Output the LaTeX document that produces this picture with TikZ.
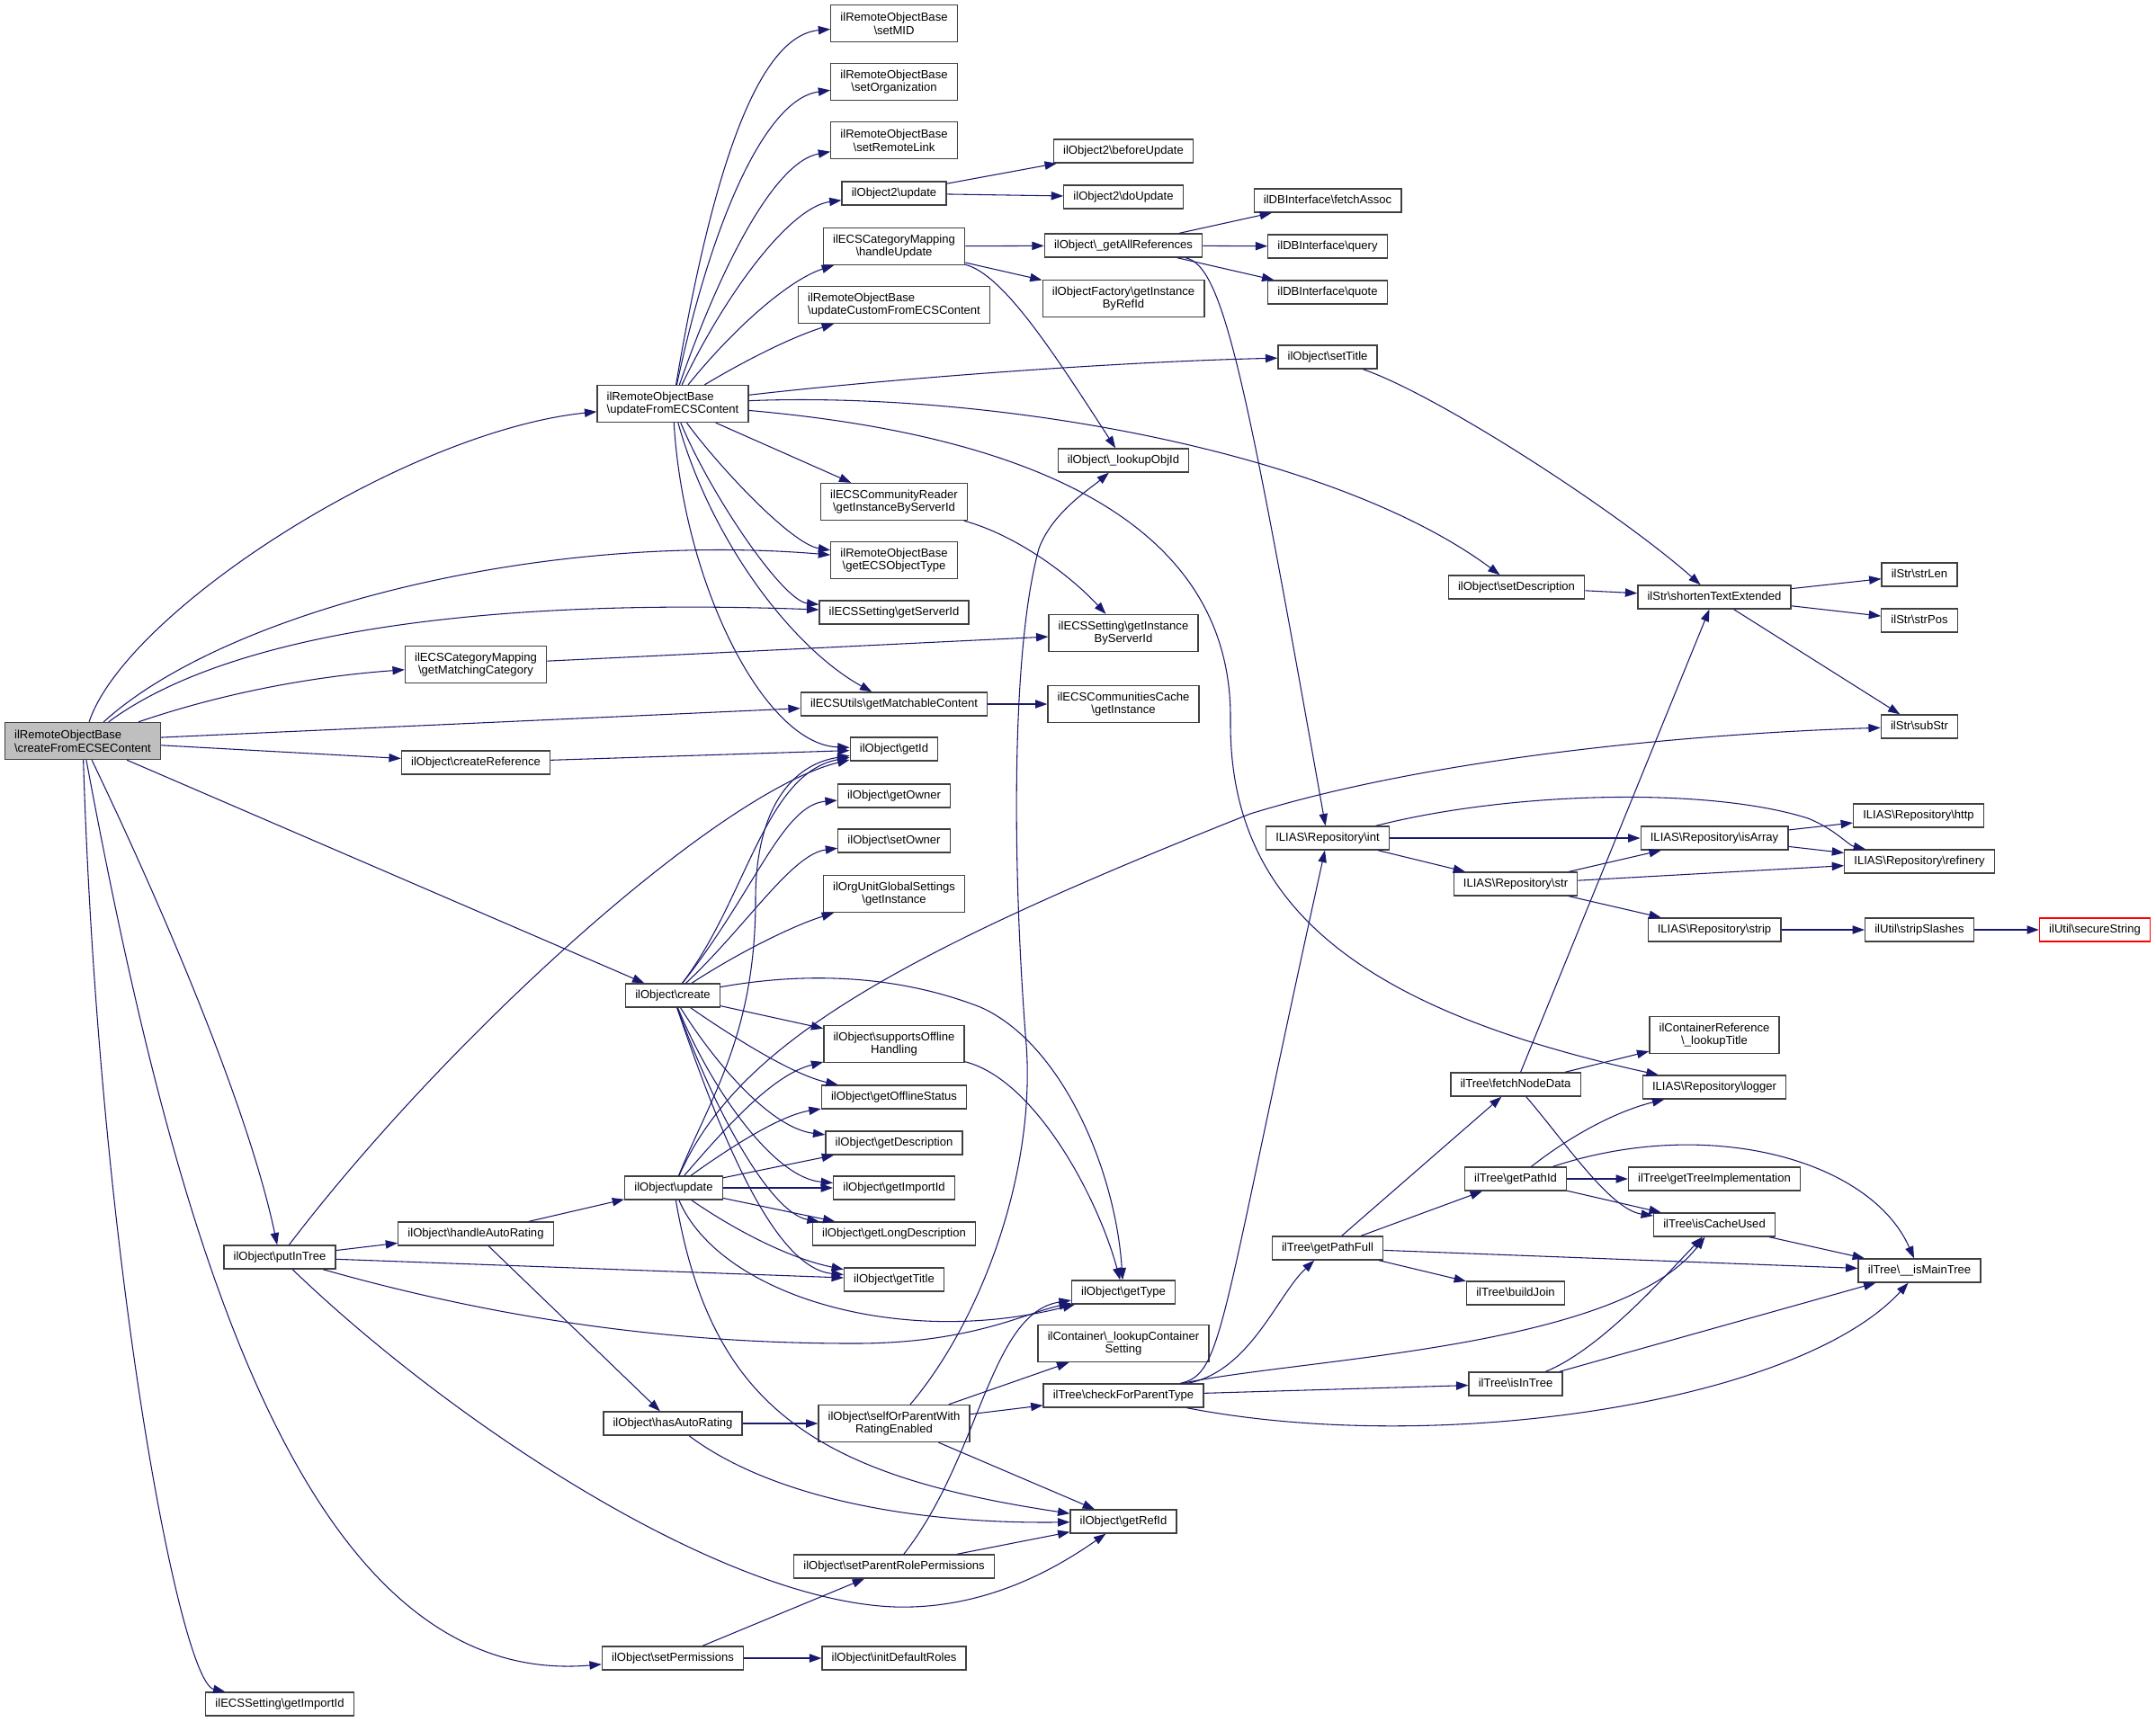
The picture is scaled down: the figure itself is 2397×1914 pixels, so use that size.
\documentclass[tikz,border=0pt]{standalone}
\usepackage{fontspec}
\setmainfont{Liberation Sans}
\usepackage{xcolor}
\usepackage{tikz}
\usetikzlibrary{arrows.meta}
\definecolor{edgeblue}{HTML}{191970}
\definecolor{boxgrey}{HTML}{404040}
\newcommand{\bsep}{\textbackslash}

\begin{document}
\begin{tikzpicture}[x=0.75pt, y=-0.75pt,
    box/.style={draw=boxgrey, line width=1pt, fill=white, font=\fontsize{9.8}{11}\selectfont, inner xsep=8pt, inner ysep=0pt},
    fn/.style={box, minimum height=19.5pt, text height=7pt, text depth=2pt},
    fn2/.style={box, minimum height=30.75pt, align=center},
    call/.style={draw=edgeblue, line width=0.8pt, -{Triangle[length=10pt,width=7pt]}}]
    \useasboundingbox (0,0) rectangle (2397,1914);

    \node[fn2, align=left, fill=gray!50] (root) at (92,824) {ilRemoteObjectBase\\\bsep createFromECSEContent};

    \node[fn2, align=left] (upFromECS) at (748,449) {ilRemoteObjectBase\\\bsep updateFromECSContent};
    \node[fn2] (matchCat) at (529,739) {ilECSCategoryMapping\\\bsep getMatchingCategory};
    \node[fn] (createRef) at (529,848) {ilObject\bsep createReference};
    \node[fn] (objCreate) at (748,1107) {ilObject\bsep create};
    \node[fn] (putInTree) at (311,1398) {ilObject\bsep putInTree};
    \node[fn] (autoRating) at (529,1372) {ilObject\bsep handleAutoRating};
    \node[fn] (objUpdate) at (749,1321) {ilObject\bsep update};
    \node[fn] (hasRating) at (748,1583) {ilObject\bsep hasAutoRating};
    \node[fn] (setPerms) at (748,1844) {ilObject\bsep setPermissions};
    \node[fn] (importIdECS) at (311,1895) {ilECSSetting\bsep getImportId};

    \node[fn2] (setMID) at (994,26) {ilRemoteObjectBase\\\bsep setMID};
    \node[fn2] (setOrg) at (994,91) {ilRemoteObjectBase\\\bsep setOrganization};
    \node[fn2] (setLink) at (994,156) {ilRemoteObjectBase\\\bsep setRemoteLink};
    \node[fn] (obj2Update) at (994,215) {ilObject2\bsep update};
    \node[fn2] (handleUpd) at (994,274) {ilECSCategoryMapping\\\bsep handleUpdate};
    \node[fn2, align=left] (updCustom) at (994,339) {ilRemoteObjectBase\\\bsep updateCustomFromECSContent};
    \node[fn2] (readerInst) at (994,558) {ilECSCommunityReader\\\bsep getInstanceByServerId};
    \node[fn2] (objType) at (994,623) {ilRemoteObjectBase\\\bsep getECSObjectType};
    \node[fn] (serverId) at (994,681) {ilECSSetting\bsep getServerId};
    \node[fn] (matchable) at (994,783) {ilECSUtils\bsep getMatchableContent};
    \node[fn] (getId) at (994,833) {ilObject\bsep getId};
    \node[fn] (getOwner) at (994,885) {ilObject\bsep getOwner};
    \node[fn] (setOwner) at (994,935) {ilObject\bsep setOwner};
    \node[fn2] (orgUnit) at (994,994) {ilOrgUnitGlobalSettings\\\bsep getInstance};
    \node[fn2] (offline) at (994,1161) {ilObject\bsep supportsOffline\\Handling};
    \node[fn] (offStatus) at (994,1220) {ilObject\bsep getOfflineStatus};
    \node[fn] (getDescr) at (994,1271) {ilObject\bsep getDescription};
    \node[fn] (importId) at (994,1321) {ilObject\bsep getImportId};
    \node[fn] (longDescr) at (994,1372) {ilObject\bsep getLongDescription};
    \node[fn] (getTitle) at (994,1423) {ilObject\bsep getTitle};
    \node[fn2] (selfRating) at (994,1583) {ilObject\bsep selfOrParentWith\\RatingEnabled};
    \node[fn] (parentPerms) at (994,1742) {ilObject\bsep setParentRolePermissions};
    \node[fn] (initRoles) at (994,1844) {ilObject\bsep initDefaultRoles};

    \node[fn] (beforeUpd) at (1249,168) {ilObject2\bsep beforeUpdate};
    \node[fn] (doUpd) at (1249,219) {ilObject2\bsep doUpdate};
    \node[fn] (allRefs) at (1249,273) {ilObject\bsep\_getAllReferences};
    \node[fn2] (factory) at (1249,332) {ilObjectFactory\bsep getInstance\\ByRefId};
    \node[fn] (lookupObj) at (1249,512) {ilObject\bsep\_lookupObjId};
    \node[fn2] (settingInst) at (1249,704) {ilECSSetting\bsep getInstance\\ByServerId};
    \node[fn2] (cacheInst) at (1249,783) {ilECSCommunitiesCache\\\bsep getInstance};
    \node[fn] (getType) at (1249,1437) {ilObject\bsep getType};
    \node[fn2] (containerSet) at (1249,1494) {ilContainer\bsep\_lookupContainer\\Setting};
    \node[fn] (parentType) at (1249,1552) {ilTree\bsep checkForParentType};
    \node[fn] (getRefId) at (1249,1692) {ilObject\bsep getRefId};

    \node[fn] (fetchAssoc) at (1476,223) {ilDBInterface\bsep fetchAssoc};
    \node[fn] (dbQuery) at (1476,274) {ilDBInterface\bsep query};
    \node[fn] (dbQuote) at (1476,325) {ilDBInterface\bsep quote};
    \node[fn] (setTitle) at (1476,397) {ilObject\bsep setTitle};
    \node[fn] (repoInt) at (1476,932) {ILIAS\bsep Repository\bsep int};
    \node[fn] (pathFull) at (1476,1388) {ilTree\bsep getPathFull};

    \node[fn] (setDescr) at (1686,653) {ilObject\bsep setDescription};
    \node[fn] (repoStr) at (1685,983) {ILIAS\bsep Repository\bsep str};
    \node[fn] (nodeData) at (1685,1206) {ilTree\bsep fetchNodeData};
    \node[fn] (pathId) at (1685,1311) {ilTree\bsep getPathId};
    \node[fn] (buildJoin) at (1685,1438) {ilTree\bsep buildJoin};
    \node[fn] (isInTree) at (1685,1539) {ilTree\bsep isInTree};

    \node[fn] (shorten) at (1906,664) {ilStr\bsep shortenTextExtended};
    \node[fn] (isArray) at (1906,932) {ILIAS\bsep Repository\bsep isArray};
    \node[fn] (repoStrip) at (1906,1034) {ILIAS\bsep Repository\bsep strip};
    \node[fn2] (lookupTitle) at (1906,1151) {ilContainerReference\\\bsep\_lookupTitle};
    \node[fn] (logger) at (1906,1209) {ILIAS\bsep Repository\bsep logger};
    \node[fn] (treeImpl) at (1906,1311) {ilTree\bsep getTreeImplementation};
    \node[fn] (cacheUsed) at (1906,1362) {ilTree\bsep isCacheUsed};

    \node[fn] (strLen) at (2134,639) {ilStr\bsep strLen};
    \node[fn] (strPos) at (2134,690) {ilStr\bsep strPos};
    \node[fn] (subStr) at (2134,808) {ilStr\bsep subStr};
    \node[fn] (repoHttp) at (2133,907) {ILIAS\bsep Repository\bsep http};
    \node[fn] (refinery) at (2134,958) {ILIAS\bsep Repository\bsep refinery};
    \node[fn] (stripSl) at (2134,1034) {ilUtil\bsep stripSlashes};
    \node[fn] (mainTree) at (2134,1413) {ilTree\bsep\_\_isMainTree};
    \node[fn, draw=red] (secure) at (2329,1034) {ilUtil\bsep secureString};

    \draw[call] (root) .. controls (140,680) and (450,480) .. (upFromECS);
    \draw[call] (root) .. controls (250,680) and (600,590) .. (objType);
    \draw[call] (root) .. controls (260,700) and (550,665) .. (serverId);
    \draw[call] (root) .. controls (250,770) and (350,752) .. (matchCat);
    \draw[call] (root) -- (matchable);
    \draw[call] (root) -- (createRef);
    \draw[call] (root) -- (objCreate);
    \draw[call] (root) .. controls (200,1050) and (280,1250) .. (putInTree);
    \draw[call] (root) .. controls (190,1350) and (330,1880) .. (setPerms);
    \draw[call] (root) .. controls (110,1400) and (200,1870) .. (importIdECS);

    \draw[call] (upFromECS) .. controls (790,200) and (840,40) .. (setMID);
    \draw[call] (upFromECS) .. controls (790,250) and (850,110) .. (setOrg);
    \draw[call] (upFromECS) .. controls (800,300) and (860,180) .. (setLink);
    \draw[call] (upFromECS) .. controls (810,320) and (880,230) .. (obj2Update);
    \draw[call] (upFromECS) .. controls (820,360) and (880,310) .. (handleUpd);
    \draw[call] (upFromECS) .. controls (830,400) and (880,375) .. (updCustom);
    \draw[call] (upFromECS) .. controls (1000,420) and (1250,402) .. (setTitle);
    \draw[call] (upFromECS) .. controls (1100,435) and (1480,500) .. (setDescr);
    \draw[call] (upFromECS) .. controls (1100,480) and (1370,560) .. (1368,800) .. controls (1366,1000) and (1500,1120) .. (logger);
    \draw[call] (upFromECS) -- (readerInst);
    \draw[call] (upFromECS) .. controls (800,520) and (880,605) .. (objType);
    \draw[call] (upFromECS) .. controls (790,550) and (870,668) .. (serverId);
    \draw[call] (upFromECS) .. controls (790,600) and (880,720) .. (matchable);
    \draw[call] (upFromECS) .. controls (760,650) and (850,828) .. (getId);

    \draw[call] (obj2Update) -- (beforeUpd);
    \draw[call] (obj2Update) -- (doUpd);
    \draw[call] (handleUpd) -- (allRefs);
    \draw[call] (handleUpd) -- (factory);
    \draw[call] (handleUpd) .. controls (1115,305) and (1170,390) .. (lookupObj);
    \draw[call] (allRefs) -- (fetchAssoc);
    \draw[call] (allRefs) -- (dbQuery);
    \draw[call] (allRefs) -- (dbQuote);
    \draw[call] (allRefs) .. controls (1360,295) and (1385,420) .. (repoInt);
    \draw[call] (readerInst) .. controls (1130,595) and (1190,640) .. (settingInst);
    \draw[call] (matchCat) -- (settingInst);
    \draw[call] (matchable) -- (cacheInst);
    \draw[call] (createRef) -- (getId);

    \draw[call] (objCreate) .. controls (830,1000) and (850,860) .. (getId);
    \draw[call] (objCreate) .. controls (840,990) and (870,895) .. (getOwner);
    \draw[call] (objCreate) .. controls (830,1030) and (880,950) .. (setOwner);
    \draw[call] (objCreate) .. controls (820,1060) and (880,1030) .. (orgUnit);
    \draw[call] (objCreate) .. controls (900,1080) and (1000,1085) .. (1090,1120) .. controls (1180,1160) and (1240,1300) .. (getType);
    \draw[call] (objCreate) -- (offline);
    \draw[call] (objCreate) .. controls (810,1150) and (880,1195) .. (offStatus);
    \draw[call] (objCreate) .. controls (800,1190) and (860,1255) .. (getDescr);
    \draw[call] (objCreate) .. controls (790,1210) and (860,1310) .. (importId);
    \draw[call] (objCreate) .. controls (800,1250) and (860,1350) .. (longDescr);
    \draw[call] (objCreate) .. controls (800,1260) and (860,1410) .. (getTitle);

    \draw[call] (putInTree) .. controls (500,1150) and (800,880) .. (getId);
    \draw[call] (putInTree) -- (autoRating);
    \draw[call] (putInTree) -- (getTitle);
    \draw[call] (putInTree) .. controls (600,1480) and (800,1494) .. (950,1494) .. controls (1080,1494) and (1140,1460) .. (getType);
    \draw[call] (putInTree) .. controls (500,1580) and (800,1780) .. (995,1787) .. controls (1100,1790) and (1180,1740) .. (getRefId);
    \draw[call] (autoRating) -- (objUpdate);
    \draw[call] (autoRating) -- (hasRating);

    \draw[call] (objUpdate) .. controls (790,1220) and (840,1150) .. (840,1000) .. controls (840,900) and (880,850) .. (getId);
    \draw[call] (objUpdate) .. controls (820,1160) and (1000,1060) .. (1390,905) .. controls (1600,840) and (1900,815) .. (subStr);
    \draw[call] (objUpdate) .. controls (810,1250) and (860,1195) .. (offline);
    \draw[call] (objUpdate) .. controls (820,1270) and (870,1240) .. (offStatus);
    \draw[call] (objUpdate) -- (getDescr);
    \draw[call] (objUpdate) -- (importId);
    \draw[call] (objUpdate) -- (longDescr);
    \draw[call] (objUpdate) .. controls (820,1370) and (880,1400) .. (getTitle);
    \draw[call] (objUpdate) .. controls (800,1440) and (1000,1500) .. (getType);
    \draw[call] (objUpdate) .. controls (790,1560) and (900,1640) .. (getRefId);

    \draw[call] (hasRating) -- (selfRating);
    \draw[call] (hasRating) .. controls (850,1660) and (1000,1695) .. (getRefId);
    \draw[call] (selfRating) .. controls (1090,1470) and (1155,1300) .. (1140,1150) .. controls (1125,950) and (1125,720) .. (1155,610) .. controls (1170,570) and (1210,545) .. (lookupObj);
    \draw[call] (selfRating) -- (containerSet);
    \draw[call] (selfRating) -- (parentType);
    \draw[call] (selfRating) -- (getRefId);
    \draw[call] (parentPerms) .. controls (1090,1620) and (1100,1460) .. (getType);
    \draw[call] (parentPerms) -- (getRefId);
    \draw[call] (setPerms) -- (parentPerms);
    \draw[call] (setPerms) -- (initRoles);
    \draw[call] (offline) .. controls (1150,1200) and (1220,1330) .. (getType);

    \draw[call] (setTitle) .. controls (1600,440) and (1800,570) .. (shorten);
    \draw[call] (setDescr) -- (shorten);
    \draw[call] (shorten) -- (strLen);
    \draw[call] (shorten) -- (strPos);
    \draw[call] (shorten) -- (subStr);
    \draw[call] (repoInt) -- (isArray);
    \draw[call] (repoInt) -- (repoStr);
    \draw[call] (repoInt) .. controls (1680,880) and (1900,875) .. (2010,910) .. controls (2040,922) and (2055,940) .. (refinery);
    \draw[call] (repoStr) -- (isArray);
    \draw[call] (repoStr) -- (refinery);
    \draw[call] (repoStr) -- (repoStrip);
    \draw[call] (isArray) -- (repoHttp);
    \draw[call] (isArray) -- (refinery);
    \draw[call] (repoStrip) -- (stripSl);
    \draw[call] (stripSl) -- (secure);

    \draw[call] (parentType) .. controls (1360,1528) and (1355,1480) .. (repoInt);
    \draw[call] (parentType) .. controls (1390,1525) and (1420,1440) .. (pathFull);
    \draw[call] (parentType) .. controls (1450,1510) and (1800,1500) .. (cacheUsed);
    \draw[call] (parentType) -- (isInTree);
    \draw[call] (parentType) .. controls (1600,1620) and (2000,1560) .. (mainTree);
    \draw[call] (pathFull) -- (nodeData);
    \draw[call] (pathFull) -- (pathId);
    \draw[call] (pathFull) -- (mainTree);
    \draw[call] (pathFull) -- (buildJoin);
    \draw[call] (nodeData) -- (shorten);
    \draw[call] (nodeData) -- (lookupTitle);
    \draw[call] (nodeData) .. controls (1740,1270) and (1790,1345) .. (cacheUsed);
    \draw[call] (pathId) .. controls (1750,1260) and (1800,1235) .. (logger);
    \draw[call] (pathId) .. controls (1900,1240) and (2080,1290) .. (mainTree);
    \draw[call] (pathId) -- (treeImpl);
    \draw[call] (pathId) -- (cacheUsed);
    \draw[call] (cacheUsed) -- (mainTree);
    \draw[call] (isInTree) .. controls (1780,1500) and (1850,1420) .. (cacheUsed);
    \draw[call] (isInTree) -- (mainTree);
\end{tikzpicture}
\end{document}
